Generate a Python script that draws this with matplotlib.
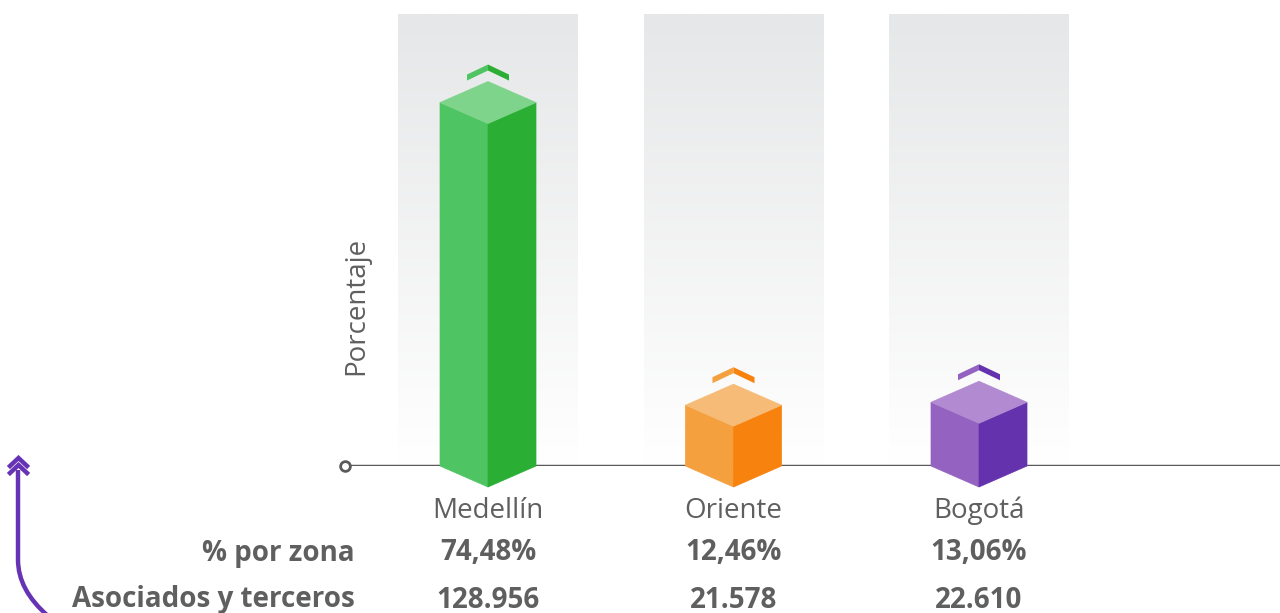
import numpy as np
import matplotlib
matplotlib.use("Agg")
import matplotlib.pyplot as plt
from matplotlib.patches import Polygon, PathPatch
from matplotlib.path import Path
from matplotlib.colors import LinearSegmentedColormap

zonas = ["Medellín", "Oriente", "Bogotá"]
porcentajes = [74.48, 12.46, 13.06]
asociados = ["128.956", "21.578", "22.610"]
fila_labels = ["% por zona", "Asociados y terceros"]

# left face, right face, top face
colores = [
    ("#4fc463", "#2aaf34", "#7fd48c"),
    ("#f4a03e", "#f7820e", "#f6bb77"),
    ("#9462c0", "#6532ae", "#b18ad2"),
]

TXT = "#5f5f5f"
PURPLE = "#6633b5"
FONT = ["Open Sans", "DejaVu Sans"]
FS = 20

W, H = 1280, 613
fig = plt.figure(figsize=(W / 100, H / 100), dpi=100)

# plot area: baseline runs from x=344px to the right edge
px_per_unit = 245.5
px_per_pct = 4.88
x_left_px, y0_px, top_px = 344, 466, 14
c0_px = 488
ax = fig.add_axes([x_left_px / W, 1 - y0_px / H, (W - x_left_px) / W, (y0_px - top_px) / H])
ax.set_xlim(-(c0_px - x_left_px) / px_per_unit, (W - c0_px) / px_per_unit)
ax.set_ylim(0, (y0_px - top_px) / px_per_pct)
ax.axis("off")

x = np.arange(len(zonas))
hw = 48 / px_per_unit          # half width of the prism
dd = 21 / px_per_pct           # rise of the diamond top
col_hw = 90 / px_per_unit      # half width of the shaded column

# background gradient columns
grad = np.linspace(0, 1, 256).reshape(-1, 1)
cmap = LinearSegmentedColormap.from_list("col", ["#ffffff", "#e6e7e8"])
for xi in x:
    ax.imshow(grad, cmap=cmap, origin="lower", aspect="auto",
              extent=(xi - col_hw, xi + col_hw, 0, ax.get_ylim()[1]), zorder=0)

# baseline with the small ring at its start
ax.axhline(0, color="#5a5a5a", lw=2.5, zorder=1)
ax.plot([ax.get_xlim()[0] + 0.003], [0], "o", ms=7, mfc="white", mec="#5a5a5a",
        mew=2, clip_on=False, zorder=2)

for xi, v, (cl, cr, ct) in zip(x, porcentajes, colores):
    left = [(xi - hw, 0), (xi - hw, v), (xi, v - dd), (xi, -dd)]
    right = [(xi, -dd), (xi, v - dd), (xi + hw, v), (xi + hw, 0)]
    top = [(xi - hw, v), (xi, v + dd), (xi + hw, v), (xi, v - dd)]
    for pts, c in ((left, cl), (right, cr), (top, ct)):
        ax.add_patch(Polygon(pts, closed=True, fc=c, ec=c, lw=0.5,
                             clip_on=False, zorder=3))
    # chevron above each prism
    apex = v + dd + 17 / px_per_pct
    chw = 21 / px_per_unit
    drop = 10 / px_per_pct
    th = 6 / px_per_pct
    lch = [(xi - chw, apex - drop), (xi, apex), (xi, apex - th), (xi - chw, apex - drop - th)]
    rch = [(xi + chw, apex - drop), (xi, apex), (xi, apex - th), (xi + chw, apex - drop - th)]
    ax.add_patch(Polygon(lch, closed=True, fc=cl, ec="none", clip_on=False, zorder=3))
    ax.add_patch(Polygon(rch, closed=True, fc=cr, ec="none", clip_on=False, zorder=3))

# category and table text under the axis
fx = lambda px: px / W
fy = lambda py: 1 - py / H
for xi, zona, p, a in zip(x, zonas, porcentajes, asociados):
    xd = ax.transData.transform((xi, 0))[0] / W
    fig.text(xd, fy(511), zona, ha="center", va="center", fontsize=FS,
             color=TXT, family=FONT)
    fig.text(xd, fy(553), f"{p:.2f}%".replace(".", ","), ha="center", va="center",
             fontsize=FS, weight="bold", color=TXT, family=FONT)
    fig.text(xd, fy(600), a, ha="center", va="center", fontsize=FS,
             weight="bold", color=TXT, family=FONT)

for lab, py in zip(fila_labels, (553, 600)):
    fig.text(fx(355), fy(py), lab, ha="right", va="center", fontsize=FS,
             weight="bold", color=TXT, family=FONT)

fig.text(fx(356), fy(306), "Porcentaje", ha="center", va="center", rotation=90,
         fontsize=FS, color=TXT, family=FONT)

# curved purple arrow on the left
verts = [(fx(18), fy(470)), (fx(18), fy(560)), (fx(18), fy(590)), (fx(48), fy(616))]
codes = [Path.MOVETO, Path.LINETO, Path.CURVE3, Path.CURVE3]
fig.patches.append(PathPatch(Path(verts, codes), transform=fig.transFigure,
                             fc="none", ec=PURPLE, lw=3.2, capstyle="butt"))
for ay in (458, 465):
    fig.lines.append(plt.Line2D([fx(10), fx(18.5), fx(27)], [fy(ay + 8), fy(ay), fy(ay + 8)],
                                transform=fig.transFigure, color=PURPLE, lw=3.2,
                                solid_joinstyle="miter"))

fig.savefig("out.png", dpi=100)
